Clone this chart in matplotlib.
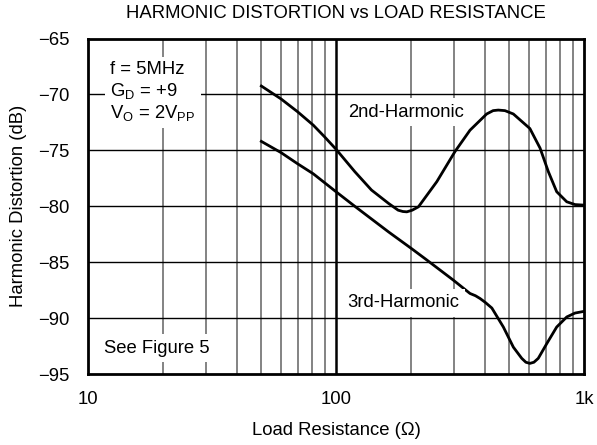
import numpy as np
import matplotlib
matplotlib.use("Agg")
import matplotlib.pyplot as plt
from matplotlib.ticker import FixedLocator, NullFormatter

plt.rcParams["font.family"] = ["Liberation Sans", "DejaVu Sans"]
plt.rcParams["mathtext.fontset"] = "custom"
plt.rcParams["mathtext.rm"] = "Liberation Sans"
plt.rcParams["mathtext.it"] = "Liberation Sans"

# ── DATA ─────────────────────────────────────────────────────────────────────
load_2nd = [50, 60, 70, 81, 90, 100, 119, 139, 163, 178, 186, 193, 203, 215,
            255, 302, 347, 405, 430, 451, 480, 519, 605, 665, 718, 776, 852, 920, 1000]
hd_2nd = [-69.25, -70.4, -71.55, -72.75, -73.8, -74.9, -76.9, -78.55, -79.75,
          -80.35, -80.47, -80.5, -80.35, -80.05, -77.8, -75.1, -73.2, -71.75,
          -71.45, -71.4, -71.45, -71.75, -73.05, -74.8, -76.9, -78.7, -79.6,
          -79.85, -79.9]

load_3rd = [50, 60, 70, 81, 100, 119, 163, 202, 229, 297, 347, 365, 381, 400,
            425, 473, 519, 561, 583, 605, 628, 654, 707, 776, 852, 920, 1000]
hd_3rd = [-74.2, -75.2, -76.2, -77.1, -78.7, -80.0, -82.3, -83.8, -84.7, -86.6,
          -87.8, -88.0, -88.25, -88.6, -89.1, -90.8, -92.6, -93.6, -93.95, -94.05,
          -93.95, -93.6, -92.3, -90.8, -89.9, -89.55, -89.4]

y_ticks = [-65, -70, -75, -80, -85, -90, -95]
y_labels = ["\u221265", "\u221270", "\u221275", "\u221280", "\u221285", "\u221290", "\u221295"]
x_ticks = [10, 100, 1000]
x_labels = ["10", "100", "1k"]
x_minor = [20, 30, 40, 50, 60, 70, 80, 90, 200, 300, 400, 500, 600, 700, 800, 900]

FS = 13.3

fig = plt.figure(figsize=(5.97, 4.45), dpi=100)
ax = fig.add_axes([88 / 597, 1 - 374 / 445, (584 - 88) / 597, (374 - 38.5) / 445])

ax.set_xscale("log")
ax.set_xlim(10, 1000)
ax.set_ylim(-95, -65)

# grid
for xm in x_minor:
    ax.axvline(xm, color="#7a7a7a", lw=1.3, zorder=1)
ax.axvline(100, color="black", lw=1.8, zorder=1)
for yv in y_ticks[1:-1]:
    ax.axhline(yv, color="black", lw=1.0, zorder=1)

# curves
ax.plot(load_2nd, hd_2nd, color="black", lw=2.0, solid_joinstyle="round", zorder=3)
ax.plot(load_3rd, hd_3rd, color="black", lw=2.0, solid_joinstyle="round", zorder=3)

# ticks
ax.xaxis.set_major_locator(FixedLocator(x_ticks))
ax.xaxis.set_minor_locator(FixedLocator(x_minor))
ax.xaxis.set_minor_formatter(NullFormatter())
ax.set_xticklabels(x_labels)
ax.set_yticks(y_ticks)
ax.set_yticklabels(y_labels)
ax.tick_params(axis="both", which="both", length=0, labelsize=FS)
ax.tick_params(axis="y", pad=13)
ax.tick_params(axis="x", pad=12)

for sp in ax.spines.values():
    sp.set_linewidth(2.0)
    sp.set_color("black")
    sp.set_zorder(4)

ax.set_xlabel("Load Resistance (\u03a9)", fontsize=FS, labelpad=10)
ax.set_ylabel("Harmonic Distortion (dB)", fontsize=FS, labelpad=8)
fig.text((88 + 584) / 2 / 597, 1 - 14 / 445, "HARMONIC DISTORTION vs LOAD RESISTANCE",
         ha="center", va="center", fontsize=FS)

# annotations
box = dict(facecolor="white", edgecolor="none", pad=4)
ax.text(12.3, -69.8,
        "f = 5MHz\n" + r"G$_\mathregular{D}$ = +9" + "\n" + r"V$_\mathregular{O}$ = 2V$_\mathregular{PP}$",
        fontsize=FS, va="center", ha="left", linespacing=1.15, bbox=box, zorder=5)
ax.text(111.5, -71.6, "2nd-Harmonic", fontsize=FS, va="center", ha="left", bbox=box, zorder=5)
ax.text(111.5, -88.65, "3rd-Harmonic", fontsize=FS, va="center", ha="left", bbox=box, zorder=5)
ax.text(11.6, -92.7, "See Figure 5", fontsize=FS, va="center", ha="left", bbox=box, zorder=5)

fig.savefig("out.png", dpi=100)
